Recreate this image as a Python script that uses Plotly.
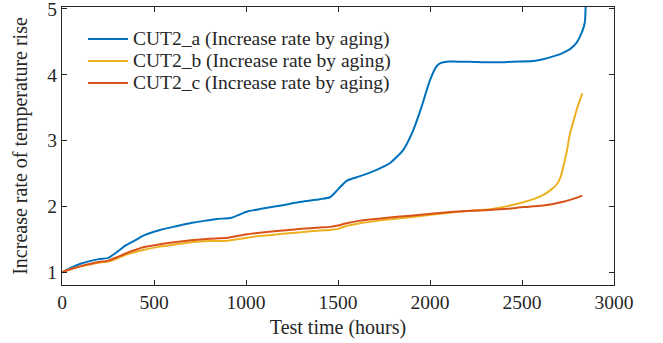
import plotly.graph_objects as go

# Test time (hours) and increase rate of temperature rise
time_a = [0, 50, 100, 150, 200, 252, 300, 342, 400, 442, 533, 620, 714, 780, 841, 922, 1004, 1076, 1200, 1300, 1400, 1457, 1500, 1547, 1620, 1710, 1783, 1855, 1909, 1955, 2000, 2036, 2060, 2091, 2150, 2217, 2300, 2380, 2450, 2562, 2620, 2670, 2720, 2761, 2795, 2815, 2835, 2842, 2846]
rate_a = [1.00, 1.07, 1.13, 1.17, 1.20, 1.22, 1.31, 1.40, 1.49, 1.557, 1.643, 1.70, 1.755, 1.785, 1.81, 1.83, 1.92, 1.96, 2.02, 2.07, 2.11, 2.14, 2.26, 2.39, 2.46, 2.556, 2.66, 2.86, 3.16, 3.52, 3.92, 4.13, 4.18, 4.20, 4.20, 4.198, 4.19, 4.19, 4.20, 4.21, 4.24, 4.28, 4.33, 4.39, 4.48, 4.58, 4.72, 4.81, 5.06]

time_b = [0, 50, 100, 150, 200, 252, 300, 350, 442, 533, 620, 714, 800, 900, 1004, 1076, 1200, 1300, 1400, 1457, 1500, 1540, 1620, 1720, 1837, 1950, 2109, 2200, 2326, 2420, 2507, 2570, 2616, 2660, 2688, 2710, 2725, 2745, 2761, 2780, 2797, 2815, 2828]
rate_b = [1.00, 1.05, 1.09, 1.12, 1.145, 1.165, 1.21, 1.27, 1.34, 1.39, 1.425, 1.46, 1.475, 1.48, 1.526, 1.55, 1.585, 1.61, 1.635, 1.643, 1.66, 1.70, 1.745, 1.785, 1.82, 1.855, 1.906, 1.93, 1.958, 2.005, 2.065, 2.12, 2.175, 2.26, 2.33, 2.45, 2.61, 2.86, 3.11, 3.30, 3.47, 3.62, 3.72]

time_c = [0, 50, 100, 150, 200, 252, 300, 350, 442, 533, 620, 714, 800, 900, 1004, 1076, 1200, 1300, 1400, 1457, 1500, 1540, 1620, 1720, 1837, 1950, 2109, 2200, 2326, 2420, 2507, 2600, 2688, 2730, 2761, 2795, 2828]
rate_c = [1.00, 1.05, 1.09, 1.125, 1.155, 1.177, 1.23, 1.29, 1.38, 1.425, 1.46, 1.49, 1.51, 1.526, 1.578, 1.60, 1.635, 1.66, 1.68, 1.69, 1.71, 1.74, 1.785, 1.815, 1.846, 1.875, 1.917, 1.93, 1.947, 1.965, 1.99, 2.01, 2.05, 2.075, 2.10, 2.13, 2.165]

names = ["CUT2_a (Increase rate by aging)", "CUT2_b (Increase rate by aging)", "CUT2_c (Increase rate by aging)"]
colors = ["#0072BD", "#EDB120", "#D95319"]

x_ticks = [0, 500, 1000, 1500, 2000, 2500, 3000]
y_ticks = [1, 2, 3, 4, 5]

FONT = "Liberation Serif, Times New Roman, serif"
INK = "#262626"

fig = go.Figure()
for t, r, n, c in zip([time_a, time_b, time_c], [rate_a, rate_b, rate_c], names, colors):
    fig.add_trace(go.Scatter(x=t, y=r, mode="lines",
                             name='<span style="font-size:19.5px">' + n + '</span>',
                             line=dict(color=c, width=2, shape="spline", smoothing=0.6)))

axis_common = dict(showline=True, linecolor=INK, linewidth=1, mirror="ticks",
                   ticks="inside", ticklen=5, tickcolor=INK, showgrid=False, zeroline=False,
                   automargin=False, ticklabeloverflow="allow",
                   tickfont=dict(family=FONT, size=19.5, color=INK))

fig.update_layout(
    width=663, height=343,
    margin=dict(l=62, r=49, t=7, b=58),
    paper_bgcolor="white", plot_bgcolor="white",
    font=dict(family=FONT, size=19.5, color=INK),
    showlegend=True,
    legend=dict(x=0.038, y=0.942, xanchor="left", yanchor="top",
                bgcolor="rgba(0,0,0,0)", borderwidth=0,
                font=dict(family=FONT, size=14.6, color=INK),
                itemwidth=40, tracegroupgap=0),
    xaxis=dict(range=[0, 3000], tickvals=x_ticks, ticktext=[str(v) for v in x_ticks],
               ticklabelstandoff=0,
               title=dict(text="Test time (hours)", font=dict(family=FONT, size=20, color=INK), standoff=7),
               **axis_common),
    yaxis=dict(range=[0.807, 5.03], tickvals=y_ticks, ticktext=[str(v) for v in y_ticks],
               title=dict(text="Increase rate of temperature rise", font=dict(family=FONT, size=20, color=INK), standoff=14),
               **axis_common),
)

fig.add_annotation(text="(b) Increase rate of temperature rise for CUT2",
                   xref="paper", yref="paper", x=0.49, y=-0.196, xanchor="center", yanchor="top",
                   showarrow=False, font=dict(family=FONT, size=19.5, color=INK))

fig.write_html("out.html", config={"displayModeBar": False},
               post_script="document.body.style.margin='0';")
